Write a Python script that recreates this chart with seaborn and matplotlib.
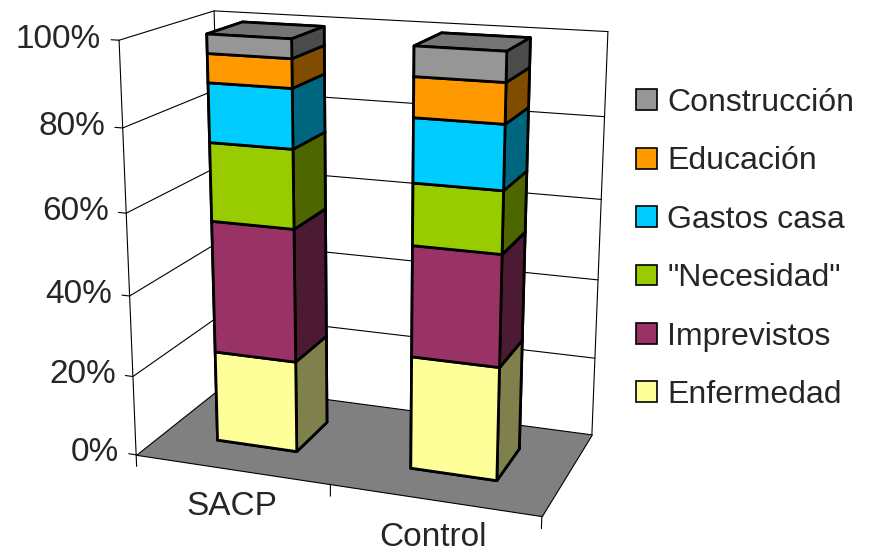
import numpy as np
import matplotlib
matplotlib.use("Agg")
import matplotlib.pyplot as plt
import matplotlib.colors as mcolors
import seaborn as sns
from matplotlib.patches import Patch
from mpl_toolkits.mplot3d import proj3d
from mpl_toolkits.mplot3d.art3d import Poly3DCollection

# Data: share of each use of the money (%), per group
groups = ["SACP", "Control"]
series = ["Enfermedad", "Imprevistos", '"Necesidad"', "Gastos casa", "Educación", "Construcción"]
sacp = [22.9, 32.7, 19.0, 14.1, 6.8, 4.5]
control = [27.8, 26.7, 14.6, 14.9, 9.2, 6.8]
values = [sacp, control]
colors = ["#FFFF99", "#993366", "#99CC00", "#00CCFF", "#FF9900", "#969696"]
ticks = [0, 20, 40, 60, 80, 100]

sns.set_theme(style="white")
plt.rcParams["font.family"] = ["Liberation Sans", "DejaVu Sans"]

W_PX, H_PX = 882, 557
fig = plt.figure(figsize=(W_PX / 100, H_PX / 100), dpi=100)
ax = fig.add_axes([0.0, 0.0, 0.8, 1.0], projection="3d")
ax.set_proj_type("persp", focal_length=0.5)
ax.view_init(elev=16, azim=-70)
ax.set_box_aspect((1.0, 0.5, 1.0), zoom=1.0)
ax.set_xlim(0, 2)
ax.set_ylim(0, 1)
ax.set_zlim(0, 1)
ax.set_axis_off()
ax.computed_zorder = False


def shade(c, f):
    r, g, b, a = mcolors.to_rgba(c)
    return (r * f, g * f, b * f, a)


# floor
floor = Poly3DCollection([[(0, 0, 0), (2, 0, 0), (2, 1, 0), (0, 1, 0)]],
                         facecolor="#808080", edgecolor="black", linewidth=0.8)
floor.set_zorder(1)
ax.add_collection3d(floor)

# walls: gridlines and edges
for t in ticks[1:]:
    z = t / 100
    ax.plot([0, 0, 2], [0, 1, 1], [z, z, z], color="black", lw=0.8, zorder=2)
for (xe, ye) in [(0, 0), (0, 1), (2, 1)]:
    ax.plot([xe, xe], [ye, ye], [0, 1], color="black", lw=0.8, zorder=2)

# axis ticks
for t in ticks:
    z = t / 100
    ax.plot([-0.04, 0], [0, 0], [z, z], color="black", lw=0.8, zorder=2)
for xe in [0, 1, 2]:
    ax.plot([xe, xe], [0, 0], [0, -0.03], color="black", lw=0.8, zorder=2)

# stacked 3D bars
w, d, y0 = 0.42, 0.4, 0.3
xs, ys, zs, dxs, dys, dzs, fcs = [], [], [], [], [], [], []
for i, vals in enumerate(values):
    bottom = 0.0
    for v, c in zip(vals, colors):
        xs.append(i + (1 - w) / 2)
        ys.append(y0)
        zs.append(bottom / 100)
        dxs.append(w)
        dys.append(d)
        dzs.append(v / 100)
        side = shade(c, 0.5)
        top = shade(c, 0.77)
        # face order: -z, +z, -y, +y, -x, +x
        fcs += [side, top, mcolors.to_rgba(c), side, side, side]
        bottom += v
bars = ax.bar3d(xs, ys, zs, dxs, dys, dzs, color=fcs, shade=False,
                edgecolor="black", linewidth=2.0)
bars.set_zorder(3)


def to_display(x, y, z):
    px, py, _ = proj3d.proj_transform(np.atleast_1d(x), np.atleast_1d(y),
                                      np.atleast_1d(z), ax.get_proj())
    return ax.transData.transform(np.column_stack([px, py]))


# fit the plot box into its frame (pixels, from the top-left corner)
frame_left, frame_right, frame_top, frame_bottom = 118, 609, 12, 515
fig.canvas.draw()
cx, cy, cz = np.meshgrid([0, 2], [0, 1], [0, 1])
pts = to_display(cx.ravel(), cy.ravel(), cz.ravel())
bx0, by0 = pts.min(axis=0)
bx1, by1 = pts.max(axis=0)
tx0, tx1 = frame_left, frame_right
ty0, ty1 = H_PX - frame_bottom, H_PX - frame_top
k = 0.5 * ((tx1 - tx0) / (bx1 - bx0) + (ty1 - ty0) / (by1 - by0))
bb = ax.get_window_extent()
c = np.array([(bb.x0 + bb.x1) / 2, (bb.y0 + bb.y1) / 2])
m = np.array([(bx0 + bx1) / 2, (by0 + by1) / 2])
t = np.array([(tx0 + tx1) / 2, (ty0 + ty1) / 2])
side = bb.width * k
nc = t - k * (m - c)
ax.set_position([(nc[0] - side / 2) / W_PX, (nc[1] - side / 2) / H_PX,
                 side / W_PX, side / H_PX])
fig.canvas.draw()

# axis labels placed at the projected 3D anchor points
for tk in ticks:
    (dx, dy), = to_display(-0.09, 0, tk / 100)
    fig.text(dx / W_PX, dy / H_PX, f"{tk}%", ha="right", va="center", fontsize=24)
for i, g in enumerate(groups):
    (dx, dy), = to_display(i + 0.5, 0, -0.055)
    fig.text(dx / W_PX, dy / H_PX, g, ha="center", va="top", fontsize=24)

handles = [Patch(facecolor=c, edgecolor="black", linewidth=1.2, label=s)
           for s, c in zip(series, colors)][::-1]
fig.legend(handles=handles, loc="center left", bbox_to_anchor=(0.689, 0.553),
           frameon=False, fontsize=23, handlelength=0.63, handleheight=0.63,
           handletextpad=0.34, labelspacing=0.89, borderaxespad=0.5)

fig.savefig("out.png", dpi=100)
